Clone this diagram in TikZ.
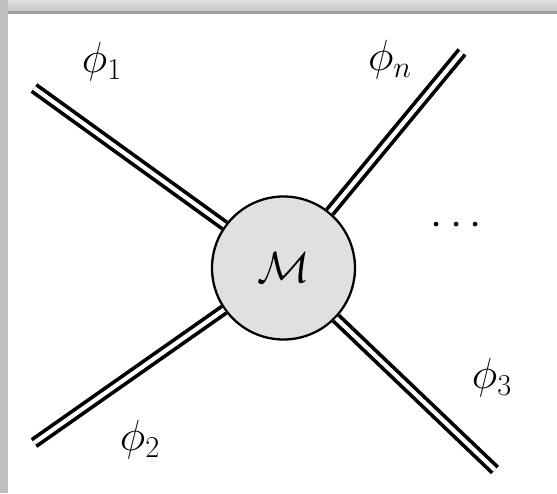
\documentclass[tikz,border=0pt]{standalone}
\usepackage{amsmath}
\usepackage{xcolor}
\usepackage{tikz}
\usetikzlibrary{positioning}

\tikzset{
  leg/.style={double, line width=2.1pt, double distance=2.4pt},
  lbl/.style={font=\fontsize{25}{30}\selectfont}
}

\begin{document}
\begin{tikzpicture}
          \useasboundingbox (0,0) rectangle (11.14,9.86);
          % window frame
          \fill[black!25] (0,0) rectangle (11.14,9.86);
          \shade[top color=black!12, bottom color=black!22] (0.16,9.64) rectangle (11.14,9.86);
          \fill[black!38] (0.16,9.58) rectangle (11.14,9.64);
          \fill[white] (0.16,0) rectangle (11.14,9.58);

          \node[circle, draw, line width=1.3pt, fill=black!12, minimum size=2.86cm, lbl] (m) at (5.67,4.5) {$\mathcal{M}$};

          \coordinate (p1) at (0.68,8.1);
          \coordinate (p2) at (0.68,1.0);
          \coordinate (p3) at (9.9,0.46);
          \coordinate (pn) at (9.24,8.82);

          \draw[leg] (m) -- (p1);
          \draw[leg] (m) -- (p2);
          \draw[leg] (m) -- (p3);
          \draw[leg] (m) -- (pn);

          \node[lbl] (l1) at (2.04,8.62) {$\phi_1$};
          \node[lbl] (l2) at (2.8,1.06) {$\phi_2$};
          \node[lbl] (l3) at (9.84,2.3) {$\phi_3$};
          \node[lbl] (ln) at (7.8,8.66) {$\phi_n$};
          \node[lbl] (dots) at (9.2,5.35) {$\cdots$};
        \end{tikzpicture}
\end{document}
